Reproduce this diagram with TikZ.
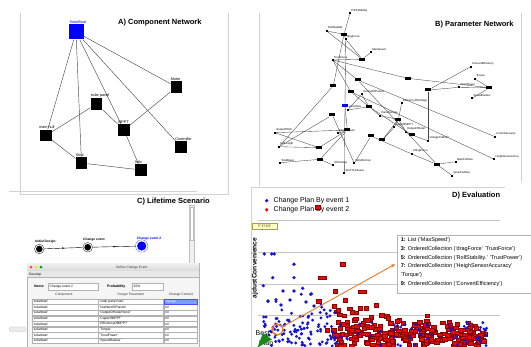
\documentclass[tikz,border=0pt]{standalone}
\usepackage{fontspec}
\setmainfont{Liberation Sans}
\newfontfamily\jpfont{Noto Sans CJK JP}
\usetikzlibrary{arrows.meta,calc}
\definecolor{ablue}{RGB}{0,0,255}
\definecolor{dblue}{RGB}{20,20,215}
\definecolor{dred}{RGB}{228,12,12}
\definecolor{orng}{RGB}{238,122,32}
\definecolor{grn}{RGB}{25,135,25}
\definecolor{selblue}{RGB}{120,160,235}
\newcommand\pnd[4]{\node[pdot] (#1) at (#2,#3) {}; \node[plbl] at ([yshift=0.2pt]#1.north east) {#4};}
\begin{document}
\begin{tikzpicture}[x=1pt,y=-1pt,
  frame/.style={draw=gray!35,line width=0.6pt},
  title/.style={font=\fontsize{7.5}{8}\selectfont\bfseries,inner sep=0pt,anchor=west},
  comp/.style={fill=black,minimum size=11.5pt,inner sep=0pt},
  clbl/.style={font=\fontsize{3.8}{4}\selectfont,inner sep=0pt,anchor=south west},
  cedge/.style={draw=gray!60!black,line width=0.45pt},
  pdot/.style={fill=black,minimum size=1.8pt,inner sep=0pt},
  pbox/.style={fill=black,minimum width=6pt,minimum height=3pt,inner sep=0pt},
  plbl/.style={font=\fontsize{2.8}{3}\selectfont,inner sep=0pt,anchor=south west},
  pedge/.style={draw=gray!55!black,line width=0.35pt},
  tiny/.style={font=\fontsize{3.3}{3.6}\selectfont,inner sep=0pt},
  cell/.style={draw=gray!60,fill=white,line width=0.3pt},
  rsq/.style={fill=dred,draw=red!55!black,line width=0.2pt,minimum width=4.6pt,minimum height=3.6pt,inner sep=0pt},
  info/.style={font=\fontsize{5.5}{6}\selectfont,inner sep=0pt,anchor=west}]
\useasboundingbox (0,0) rectangle (531,347);
\fill[white] (0,0) rectangle (531,347);

% ---------- Panel A ----------
\draw[frame] (20,13) -- (20,194) -- (228,194) -- (228,13);
\draw[frame] (259,13) -- (259,186);
\draw[frame] (521.7,13) -- (521.7,182);
\node[title] (ta) at (118,23) {A) Component Network};
\node[comp,fill=ablue,minimum size=15pt] (sb) at (76,32) {};
\node[comp] (motor) at (176.5,87) {};
\node[comp] (sp) at (96.5,104) {};
\node[comp] (mppt) at (124,130) {};
\node[comp] (mh) at (46,135.5) {};
\node[comp] (ctrl) at (181,147) {};
\node[comp] (strut) at (81.5,163) {};
\node[comp] (foils) at (141,170) {};
\foreach \a/\b in {sb/mh,sb/strut,sb/mppt,sb/ctrl,sb/motor,mh/sp,sp/mppt,mppt/motor,mppt/foils,mh/strut,strut/foils}
  \draw[cedge] (\a) -- (\b);
\node[clbl,text=ablue] at ([xshift=1pt,yshift=0.4pt]sb.north west) {SolarBoat};
\node[clbl] at ([yshift=0.6pt]motor.north west) {Motor};
\node[clbl] at ([yshift=0.6pt]sp.north west) {solar panel};
\node[clbl] at ([yshift=0.6pt]mppt.north west) {MPPT};
\node[clbl] at ([xshift=-1pt,yshift=0.6pt]mh.north west) {main hull};
\node[clbl] at ([yshift=0.6pt]ctrl.north west) {Controller};
\node[clbl] at ([yshift=0.6pt]strut.north west) {Strut};
\node[clbl] at ([yshift=0.6pt]foils.north west) {foils};

% ---------- Panel B ----------
\node[title] (tb) at (435,25) {B) Parameter Network};
\node[pbox] (b1) at (344,34.3) {};
\node[pbox] (b2) at (362.3,59.3) {};
\node[pbox] (b3) at (407.7,78.3) {};
\node[pbox] (b4) at (333.3,85.7) {};
\node[pbox] (b5) at (357.7,80) {};
\node[pbox] (b6) at (350.7,91.7) {};
\node[pbox,fill=ablue] (bb) at (345,105.3) {};
\node[pbox] (b7) at (369,106.7) {};
\node[pbox] (b8) at (332.3,115) {};
\node[pbox] (b9) at (398.3,119.3) {};
\node[pbox] (b10) at (347.3,130) {};
\node[pbox] (b11) at (319,147.7) {};
\node[pbox] (b12) at (411.7,135) {};
\node[pbox] (b13) at (382.3,140) {};
\node[pbox] (b14) at (371,136) {};
\node[pbox] (b15) at (320,159.3) {};
\node[pbox] (b16) at (436.7,164.3) {};
\node[pbox] (b17) at (489.3,87.7) {};
\node[pbox] (b18) at (428.3,90) {};
\pnd{ps}{350}{13.3}{PitchStability}
\pnd{rs}{326.7}{31}{RollStability}
\pnd{df}{345.7}{39.3}{dragForce}
\pnd{ms}{371}{52.3}{MaxSpeed}
\pnd{tf}{332.7}{60}{TrustForce}
\pnd{nop}{361.7}{94.3}{numberOfPanels}
\pnd{psz}{347.7}{110}{panelSize}
\pnd{pv}{380}{115.7}{PanelVoltage}
\pnd{eov}{401.7}{103.3}{EfficiencyOfVoltage}
\pnd{stp}{337.7}{133.3}{StrutPosition}
\pnd{soh}{275}{132.7}{shapeOfHull}
\pnd{hl}{279}{146.7}{hullLength}
\pnd{cap}{394.3}{127.3}{CapaOfMPPT}
\pnd{osp}{406}{131.7}{OutputOfSolar}
\pnd{vtm}{428.3}{141}{VoltageToMotor}
\pnd{tm}{280}{162.7}{TotalMass}
\pnd{mhv}{332.7}{165}{mhVolume}
\pnd{wf}{354.3}{163.3}{WindFriction}
\pnd{st}{344.3}{173.3}{StrutThickness}
\pnd{lf}{411.7}{154}{LiftingForce}
\pnd{mfs}{455.7}{161.7}{MainFoilSize}
\pnd{sfs}{452.3}{175.7}{SpanFoilSize}
\pnd{ce}{470.7}{66.7}{ConvertEfficiency}
\pnd{tq}{475}{79}{Torque}
\pnd{tp}{459.3}{87.3}{TrustPower}
\pnd{sr}{472.3}{98.3}{SpeedRadius}
\pnd{cs}{495}{136.7}{ControlSecurity}
\pnd{hsa}{494.3}{159.3}{HeightSensorAccu}
\foreach \a/\b in {ps/b1,rs/b1,b1/df,rs/b2,df/b2,ms/b2,tf/b2,b1/b4,b4/hl,df/st,tf/b3,b3/b17,b17/tq,b17/sr,b17/tp,b18/tp,b18/ce,b18/vtm,tf/b5,b5/cs,tf/b6,b6/hsa,nop/b7,psz/b7,b7/pv,pv/b9,eov/b9,b9/cap,b9/osp,b7/b12,b12/vtm,osp/b12,b13/cap,b13/b9,b5/b16,b16/lf,b16/mfs,b16/sfs,lf/b14,b14/wf,wf/b8,b8/hl,b10/soh,b10/stp,b10/b11,b10/b15,b11/soh,b11/hl,b15/tm,b15/mhv,bb/b10,b6/b7,psz/nop}
  \draw[pedge] (\a) -- (\b);

% ---------- Panel C ----------
\draw[frame] (9,191) -- (197,191);
\node[title] (tc) at (137,202) {C) Lifetime Scenario};
\draw[draw=gray!50,fill=gray!12,line width=0.4pt] (189,205) rectangle (194.5,272);
\draw[draw=gray!50,fill=white,line width=0.3pt] (190.5,207) rectangle (193,240);
\node[circle,draw=black!80,line width=0.4pt,minimum size=9.6pt,inner sep=0pt] (id) at (39.3,249) {};
\fill (id.center) circle (3.3);
\node[circle,draw=black!80,line width=0.4pt,minimum size=9.6pt,inner sep=0pt] (cev) at (87.7,247.3) {};
\fill (cev.center) circle (3.3);
\node[circle,draw=ablue!60,line width=0.4pt,minimum size=12.4pt,inner sep=0pt] (cev2) at (141.7,246) {};
\fill[ablue] (cev2.center) circle (4.6);
\draw[line width=0.4pt,-{Latex[length=2.2pt,width=1.8pt]}] (id) -- ($(id)!0.52!(cev)$);
\draw[line width=0.4pt] ($(id)!0.5!(cev)$) -- (cev);
\draw[line width=0.4pt,-{Latex[length=2.2pt,width=1.8pt]}] (cev) -- ($(cev)!0.52!(cev2)$);
\draw[line width=0.4pt] ($(cev)!0.5!(cev2)$) -- (cev2);
\node[tiny,anchor=south west,font=\fontsize{3.3}{3.6}\selectfont\bfseries] at (35,243) {Initial Design};
\node[tiny,anchor=south west,font=\fontsize{3.3}{3.6}\selectfont\bfseries] at (83,241) {Change event};
\node[tiny,anchor=south west,text=ablue,font=\fontsize{3.3}{3.6}\selectfont\bfseries] at (136.7,240) {Change event 2};
% scrollbar stub
\draw[draw=gray!55,fill=gray!15,line width=0.3pt,rounded corners=1.5pt] (9,327) rectangle (26,331.5);
% dialog window
\draw[draw=gray!60,fill=gray!8,line width=0.4pt] (27,263) rectangle (199,349);
\shade[top color=gray!12,bottom color=gray!30] (27.2,263.2) rectangle (198.8,271);
\draw[gray!60,line width=0.3pt] (27,271) -- (199,271);
\fill[gray!18] (27.2,271.2) rectangle (198.8,277);
\draw[gray!60,line width=0.3pt] (27,277) -- (199,277);
\fill[red!75] (31,267.2) circle (1.5);
\fill[yellow!80!orange] (36,267.2) circle (1.5);
\fill[green!65!black] (41,267.2) circle (1.5);
\node[tiny,text=gray!45!black] (dtitle) at (131.7,267.2) {Define Change Event};
\node[tiny,anchor=west] (dev) at (29,274.2) {Develop};
\node[tiny,anchor=west,font=\fontsize{3.5}{3.8}\selectfont\bfseries] (nm) at (34,286.7) {Name};
\draw[cell] (48,283.6) rectangle (98,289.8);
\node[tiny,anchor=west] (nmv) at (49.5,286.7) {Change event 2};
\node[tiny,anchor=west,font=\fontsize{3.5}{3.8}\selectfont\bfseries] (pr) at (107,286.7) {Probability};
\draw[cell] (132,283.6) rectangle (163,289.8);
\node[tiny,anchor=west] (prv) at (133.5,286.7) {20\%};
\node[tiny,text=gray!40!black] (h1) at (64,294.4) {Component};
\node[tiny,text=gray!40!black] (h2) at (131,294.4) {Design Parameter};
\node[tiny,text=gray!40!black] (h3) at (181,294.4) {Change Content};
\begin{scope}
\clip (27,263) rectangle (199,347);
\foreach \i/\b/\c in {1/'solar panel size'/change,2/'NumberOfPanels'/nil,3/'OutputOfSolarPanel'/nil,4/'CapaOfMPPT'/nil,5/'EfficiencyOfMPPT'/nil,6/'Torque'/nil,7/'TrustPower'/nil,8/'SpeedRadius'/nil}{
  \pgfmathsetmacro\yc{301.5+5.6*(\i-1)}
  \draw[cell] (32,\yc-2.6) rectangle (98,\yc+2.6);
  \draw[cell] (98.5,\yc-2.6) rectangle (163,\yc+2.6);
  \draw[cell] (164,\yc-2.6) rectangle (197,\yc+2.6);
  \node[tiny,anchor=west] at (33,\yc) {'solarboat'};
  \node[tiny,anchor=west] at (99.5,\yc) {\b};
  \node[tiny,anchor=west] at (165,\yc) {\c};
}
\draw[draw=ablue!70,fill=selblue,line width=0.4pt] (164,298.9) rectangle (197,304.1);
\node[tiny,anchor=west,text=white] (chg) at (165,301.5) {change};
\end{scope}

% ---------- Panel D ----------
\draw[frame] (251.5,187) -- (505,187);
\draw[frame] (251.5,187) -- (251.5,347);
\foreach \yy in {220.7,252.7,284.3,315.7}
  \draw[gray!45,line width=0.5pt] (258,\yy) -- (500,\yy);
\node[title] (td) at (452,196) {D) Evaluation};
\fill[dblue] (266.7,200.7) circle (1.8);
\node[anchor=west,inner sep=0pt,font=\fontsize{7}{8}\selectfont] (l1) at (273.5,200.7) {Change Plan By event 1};
\fill[dred] (266.7,209.8) circle (1.8);
\node[anchor=west,inner sep=0pt,font=\fontsize{7}{8}\selectfont] (l2) at (273.5,209.8) {Change Plan By event 2};
\node[rsq,minimum width=4.8pt,minimum height=4.2pt] at (317.3,207.3) {};
\node[rotate=90,inner sep=0pt,font=\fontsize{6.6}{7}\selectfont\bfseries] (yl) at (255,268) {ajdustConvenience};
\draw[draw=yellow!60!black,fill=yellow!22,line width=0.3pt] (252,223) rectangle (277,229);
\node[inner sep=0pt,font=\jpfont\fontsize{3.4}{3.6}\selectfont] (tt) at (264.5,226) {ｸﾞﾗﾌ ｴﾘｱ};

% scatter: red
\pgfmathsetseed{1234}
\foreach \i in {1,...,240}{
  \pgfmathsetmacro\xx{333+152*rnd}
  \pgfmathsetmacro\hh{47-0.16*(\xx-333)}
  \pgfmathsetmacro\yy{346-\hh*rnd*(0.4+0.6*rnd)}
  \node[rsq] at (\xx,\yy) {};
}
\foreach \p in {(342.3,264),(335,291),(318.5,301),(334,306),(352,312),(338,322),(327,330),(345,300),(360,308),(376,305)}
  \node[rsq] at \p {};
\node[rsq,minimum width=8pt] at (322.5,277.7) {};
\node[rsq,minimum width=8pt] at (362,291.7) {};
\node[rsq,minimum width=7pt] at (336,335) {};
% scatter: blue
\foreach \i in {1,...,115}{
  \pgfmathsetmacro\xx{262+75*rnd}
  \pgfmathsetmacro\yy{346-56*rnd*(0.3+0.7*rnd)}
  \fill[dblue] (\xx,\yy) circle (1.6);
}
\foreach \i in {1,...,55}{
  \pgfmathsetmacro\xx{330+158*rnd}
  \pgfmathsetmacro\yy{346-24*rnd}
  \fill[dblue] (\xx,\yy) circle (1.6);
}
\foreach \p in {(264.3,254),(271.7,254),(274.3,254),(294,264.3),(272.7,277.7),(294,277.7),(263.3,285.7),(283,291),(294,291),(302.7,288.3),(310.7,294.3),(268,301),(276,299.7),(281,305),(306,302),(314,306),(290,300)}
  \fill[dblue] \p circle (1.8);
% info box
\draw[draw=gray!60,fill=white,line width=0.4pt] (397,235) rectangle (536,293);
\node[info] (i1) at (400.7,240.3) {\textbf{1:} List ('MaxSpeed')};
\node[info] (i3) at (400.7,249) {\textbf{3:} OrderedCollection ('dragForce' 'TrustForce')};
\node[info] (i5) at (400.7,257.7) {\textbf{5:} OrderedCollection ('RollStability.' 'TrustPower')};
\node[info] (i7) at (400.7,266.3) {\textbf{7:} OrderedCollection ('HeighSensorAccuracy'};
\node[info] (i7b) at (400.7,275) {'Torque')};
\node[info] (i9) at (400.7,283.7) {\textbf{9:} OrderedCollection ('ConvertEfficiency')};
% best plan
\node[anchor=west,inner sep=0pt,font=\fontsize{7}{8}\selectfont] (best) at (255.5,333.5) {Best};
\node[anchor=west,inner sep=0pt,font=\fontsize{7}{8}\selectfont] (plan) at (259,342.8) {Plan};
\fill[grn] (263,333) -- (272,339.5) -- (257.5,347.5) -- cycle;
\node[circle,draw=orng,line width=1.3pt,minimum size=11pt,inner sep=0pt] (oc) at (277.5,329.5) {};
\coordinate (tip) at (395.5,264);
\draw[orng,line width=0.9pt,-{Latex[length=4pt,width=3.5pt]}] (oc) -- (tip);
\end{tikzpicture}
\end{document}
